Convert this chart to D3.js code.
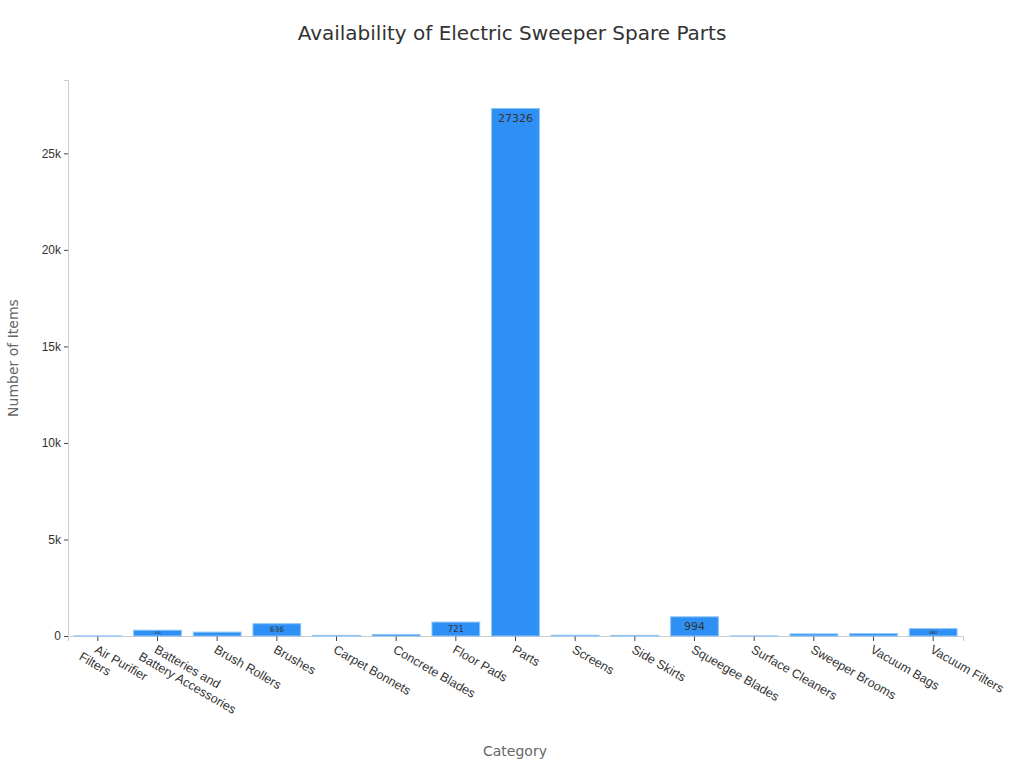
<!DOCTYPE html>
<html><head><meta charset="utf-8">
<script src="https://cdn.jsdelivr.net/npm/d3@7"></script>
<style>body{margin:0;background:#fff;font-family:"DejaVu Sans",sans-serif}</style>
</head><body><div id="chart"></div>
<script>
// Category names and item counts
const categories = ["Air Purifier\nFilters", "Batteries and\nBattery Accessories", "Brush Rollers", "Brushes",
  "Carpet Bonnets", "Concrete Blades", "Floor Pads", "Parts", "Screens", "Side Skirts",
  "Squeegee Blades", "Surface Cleaners", "Sweeper Brooms", "Vacuum Bags", "Vacuum Filters"];
const counts = [6, 300, 200, 636, 30, 80, 721, 27326, 40, 30, 994, 5, 110, 120, 380];
const yTicks = [0, 5000, 10000, 15000, 20000, 25000];

const data = categories.map((c, i) => ({ cat: c, value: counts[i] }));

const W = 1024, H = 768;
const margin = { top: 80, right: 61, bottom: 132, left: 68 };
const width = W - margin.left - margin.right;
const height = H - margin.top - margin.bottom;

const svg = d3.select("#chart").append("svg").attr("width", W).attr("height", H);
const g = svg.append("g").attr("transform", `translate(${margin.left},${margin.top})`);

const x = d3.scaleBand().domain(categories).range([0, width]).paddingInner(0.2).paddingOuter(0.1);
const y = d3.scaleLinear().domain([0, 28800]).range([height, 0]);

// Title
svg.append("text").attr("x", 512).attr("y", 40).attr("text-anchor", "middle")
  .style("font-size", "20px").style("fill", "#333").text("Availability of Electric Sweeper Spare Parts");

// Axes
const yAxis = g.append("g").call(d3.axisLeft(y).tickValues(yTicks).tickFormat(d => d === 0 ? "0" : d / 1000 + "k").tickSize(4));
yAxis.select(".domain").attr("stroke", "#ccc");
yAxis.selectAll(".tick line").attr("stroke", "#444");
yAxis.selectAll("text").style("font-size", "12px").style("fill", "#333");

const xAxis = g.append("g").attr("transform", `translate(0,${height})`).call(d3.axisBottom(x).tickSize(5).tickFormat(""));
xAxis.select(".domain").attr("stroke", "#ccc");
xAxis.selectAll(".tick line").attr("stroke", "#444");
xAxis.selectAll(".tick").append("text")
  .attr("transform", "translate(-4,16) rotate(30)")
  .attr("text-anchor", "start")
  .style("font-size", "12.5px").style("fill", "#333")
  .each(function (d) {
    const lines = d.split("\n");
    d3.select(this).selectAll("tspan").data(lines).join("tspan")
      .attr("x", (l, i) => -i * 10)
      .attr("dy", (l, i) => i === 0 ? 0 : 14)
      .text(l => l);
  });

// Bars
g.selectAll("rect.bar").data(data).join("rect").attr("class", "bar")
  .attr("x", d => x(d.cat)).attr("width", x.bandwidth())
  .attr("y", d => y(d.value)).attr("height", d => height - y(d.value))
  .attr("fill", "#2e90f5").attr("stroke", "#8cc4f7").attr("stroke-width", 1);

// Value labels inside bars
const fs = d => Math.min((height - y(d.value)) * 0.6, 11);
g.selectAll("text.val").data(data.filter(d => height - y(d.value) > 4)).join("text").attr("class", "val")
  .attr("x", d => x(d.cat) + x.bandwidth() / 2)
  .attr("y", d => { const h = height - y(d.value); return y(d.value) + Math.min(h / 2 + fs(d) / 3, 14); })
  .attr("text-anchor", "middle")
  .style("font-size", d => fs(d) + "px")
  .style("fill", "#333")
  .text(d => d.value);

// Axis titles
svg.append("text").attr("x", 515).attr("y", 756).attr("text-anchor", "middle")
  .style("font-size", "14px").style("fill", "#666").text("Category");
svg.append("text").attr("transform", "rotate(-90)").attr("x", -(margin.top + height / 2)).attr("y", 18)
  .attr("text-anchor", "middle").style("font-size", "14px").style("fill", "#666").text("Number of Items");
</script></body></html>
